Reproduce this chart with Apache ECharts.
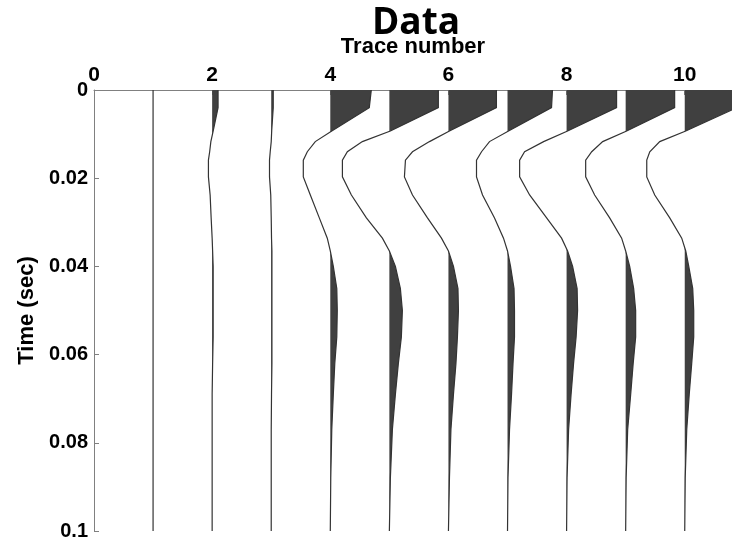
<!DOCTYPE html>
<html>
<head>
<meta charset="utf-8">
<script src="https://cdn.jsdelivr.net/npm/echarts@6/dist/echarts.min.js"></script>
<style>html,body{margin:0;padding:0;background:#fff}#c{width:732px;height:546px}</style>
</head>
<body>
<div id="c"></div>
<script>
// Sample times (sec)
const times = [0, 0.004, 0.0093, 0.0117, 0.014, 0.0159, 0.0197, 0.0238, 0.029, 0.0336, 0.0365, 0.04, 0.045, 0.05, 0.056, 0.062, 0.069, 0.077, 0.088, 0.1];
// Trace deflections (in trace-number units) at each sample time
const trace1  = [0,0,0,0,0,0,0,0,0,0,0,0,0,0,0,0,0,0,0,0];
const trace2  = [0.10,0.10,0.017,-0.022,-0.042,-0.063,-0.063,-0.034,-0.017,0,0.008,0.017,0.017,0.017,0.017,0.008,0,0,0,0];
const trace3  = [0.034,0.034,0.008,0,-0.017,-0.029,-0.029,-0.008,0,0.005,0.012,0.012,0.012,0.012,0.012,0.012,0.005,0,0,0];
const trace4  = [0.694,0.66,0.025,-0.254,-0.389,-0.457,-0.457,-0.338,-0.186,-0.051,0,0.051,0.11,0.118,0.11,0.076,0.051,0.025,0.008,0];
const trace5  = [0.829,0.829,0.017,-0.457,-0.711,-0.795,-0.795,-0.643,-0.389,-0.118,0,0.102,0.186,0.22,0.203,0.152,0.102,0.051,0.017,0];
const trace6  = [0.812,0.812,0.017,-0.321,-0.609,-0.728,-0.745,-0.609,-0.355,-0.118,0,0.085,0.161,0.169,0.152,0.127,0.085,0.042,0.017,0];
const trace7  = [0.761,0.745,0.017,-0.305,-0.44,-0.525,-0.525,-0.423,-0.22,-0.068,0,0.051,0.11,0.118,0.118,0.093,0.068,0.034,0.008,0];
const trace8  = [0.846,0.846,0.017,-0.389,-0.711,-0.795,-0.795,-0.626,-0.338,-0.085,0.017,0.102,0.178,0.186,0.161,0.118,0.076,0.034,0.008,0];
const trace9  = [0.829,0.829,0.017,-0.389,-0.575,-0.677,-0.677,-0.525,-0.271,-0.068,0,0.068,0.135,0.169,0.169,0.127,0.085,0.034,0.008,0];
const trace10 = [0.88,0.88,0.017,-0.423,-0.592,-0.643,-0.643,-0.508,-0.254,-0.051,0.017,0.068,0.135,0.152,0.152,0.118,0.076,0.034,0.008,0];
const traceNumbers = [1,2,3,4,5,6,7,8,9,10];
const traces = [trace1,trace2,trace3,trace4,trace5,trace6,trace7,trace8,trace9,trace10];

const FONT = "'Liberation Sans', Arial, sans-serif";
const chart = echarts.init(document.getElementById('c'), null, {renderer:'canvas'});

function renderTrace(params, api){
  const base = api.value(0);
  const offs = traces[api.value(1)];
  const pts = [];
  for (let i = 0; i < times.length; i++){
    if (i > 0){
      const a = offs[i-1], b = offs[i];
      if ((a > 0 && b < 0) || (a < 0 && b > 0)){
        const f = a / (a - b);
        pts.push([0, times[i-1] + f*(times[i]-times[i-1])]);
      }
    }
    pts.push([offs[i], times[i]]);
  }
  const fillPts = [api.coord([base, times[0]])];
  pts.forEach(p => fillPts.push(api.coord([base + Math.max(0, p[0]), p[1]])));
  fillPts.push(api.coord([base, times[times.length-1]]));
  const linePts = times.map((t,i) => api.coord([base + offs[i], t]));
  const cs = params.coordSys;
  return {
    type: 'group',
    clipPath: {type:'rect', shape:{x:cs.x, y:cs.y, width:cs.width, height:cs.height}},
    children: [
      {type:'polygon', shape:{points:fillPts}, style:{fill:'#404040', stroke:null}},
      {type:'polyline', shape:{points:linePts}, style:{fill:null, stroke:'#333333', lineWidth:1.2}}
    ]
  };
}

chart.setOption({
  animation: false,
  backgroundColor: '#fff',
  title: {
    text: 'Data', left: 411, top: 0, textAlign: 'center',
    textStyle: {fontFamily: "'Open Sans', sans-serif", fontWeight: 'bold', fontSize: 37, color: '#000'}
  },
  grid: {left: 94, right: 0, top: 90, bottom: 15, containLabel: false},
  xAxis: {
    type: 'value', position: 'top', min: 0, max: 10.8, interval: 2,
    name: 'Trace number', nameLocation: 'middle', nameGap: 32,
    nameTextStyle: {fontFamily: FONT, fontWeight: 'bold', fontSize: 22, color: '#000'},
    axisLine: {show: true, lineStyle: {color: '#808080', width: 1}},
    axisTick: {show: true, inside: true, length: 5, lineStyle: {color: '#808080'}},
    axisLabel: {fontFamily: FONT, fontWeight: 'bold', fontSize: 21, color: '#000', margin: 4, showMaxLabel: false},
    splitLine: {show: false}
  },
  yAxis: {
    type: 'value', inverse: true, min: 0, max: 0.1, interval: 0.02,
    name: 'Time (sec)', nameLocation: 'middle', nameGap: 53, nameRotate: 90,
    nameTextStyle: {fontFamily: FONT, fontWeight: 'bold', fontSize: 22, color: '#000'},
    axisLine: {show: true, lineStyle: {color: '#808080', width: 1}},
    axisTick: {show: true, inside: true, length: 5, lineStyle: {color: '#808080'}},
    axisLabel: {fontFamily: FONT, fontWeight: 'bold', fontSize: 20, color: '#000', margin: 6},
    splitLine: {show: false}
  },
  series: [{
    type: 'custom',
    renderItem: renderTrace,
    data: traceNumbers.map((n, i) => [n, i]),
    silent: true
  }]
});
</script>
</body>
</html>
